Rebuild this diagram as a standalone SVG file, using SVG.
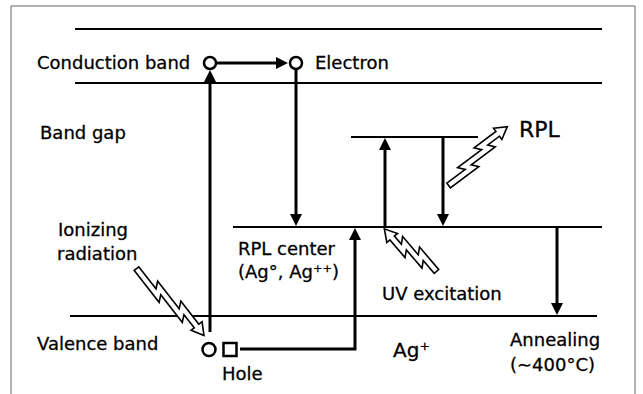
<svg xmlns="http://www.w3.org/2000/svg" width="643" height="394" viewBox="0 0 643 394">
<style>
  text { font-family: "DejaVu Sans", "Liberation Sans", sans-serif; font-size: 18px; fill: #000; stroke: #000; stroke-width: 0.3; }
  .big { font-size: 22px; }
  .mid { font-size: 20px; }
  .band { stroke: #000; stroke-width: 2.2; fill: none; }
  .arr { stroke: #000; stroke-width: 3; fill: none; marker-end: url(#ah); stroke-linejoin: miter; }
  .st { fill: #fff; stroke: #000; stroke-width: 2.5; }
  .boltO { fill: none; stroke: #000; stroke-width: 7.5; stroke-linejoin: miter; stroke-miterlimit: 6; }
  .boltI { fill: none; stroke: #fff; stroke-width: 4.3; stroke-linejoin: miter; stroke-miterlimit: 6; }
  .boltH { fill: #fff; stroke: #000; stroke-width: 1.6; stroke-linejoin: miter; }
  .frame { fill: none; stroke: #666; stroke-width: 1; }
</style>
<defs>
  <marker id="ah" markerUnits="userSpaceOnUse" viewBox="0 0 12 12" refX="4" refY="6" markerWidth="12" markerHeight="12" orient="auto">
    <path d="M0,0 L12,6 L0,12 z" fill="#000"/>
  </marker>
</defs>
<rect width="643" height="394" fill="#fff"/>
<path class="frame" d="M11,394 V6 H635 V394"/>

<g id="levels">
  <line class="band" x1="75" y1="29" x2="602" y2="29"/>
  <line class="band" x1="75" y1="83" x2="602" y2="83"/>
  <line class="band" x1="351" y1="137" x2="478" y2="137"/>
  <line class="band" x1="233" y1="227" x2="602" y2="227"/>
  <line class="band" x1="70" y1="316" x2="597" y2="316"/>
</g>

<g id="connectors">
  <line class="arr" x1="210" y1="332" x2="210" y2="78"/>
  <line class="arr" x1="217" y1="63" x2="280" y2="63"/>
  <line class="arr" x1="296" y1="70" x2="296" y2="218"/>
  <path class="arr" d="M240,349 H355 V236"/>
  <line class="arr" x1="385" y1="227" x2="385" y2="146"/>
  <line class="arr" x1="443" y1="137" x2="443" y2="218"/>
  <line class="arr" x1="557" y1="227" x2="557" y2="307"/>
</g>

<g id="electron-start"><circle class="st" cx="210" cy="63" r="6"/></g>
<g id="electron-end"><circle class="st" cx="296" cy="63" r="6"/></g>
<g id="hole-circle"><circle class="st" cx="209" cy="349.5" r="6.5"/></g>
<g id="hole-square"><rect class="st" x="223.5" y="343" width="13" height="13"/></g>

<g id="bolt-ionizing" transform="translate(136,268) rotate(52)">
  <path class="boltO" d="M0,0 H35 L30,-6 H65 L60,-12 H83"/>
  <polygon class="boltH" points="83,-19 95,-12 83,-5"/>
  <path class="boltI" d="M1.6,0 H35 L30,-6 H65 L60,-12 H84.5"/>
</g>
<g id="bolt-uv" transform="translate(437,272) rotate(229.5)">
  <path class="boltO" d="M0,0 H24 L19,-6 H43 L38,-12 H55"/>
  <polygon class="boltH" points="55,-19 67,-12 55,-5"/>
  <path class="boltI" d="M1.6,0 H24 L19,-6 H43 L38,-12 H56.5"/>
</g>
<g id="bolt-rpl" transform="translate(448,186) rotate(-36.8)">
  <path class="boltO" d="M0,0 H30 L25,-6 H55 L50,-12 H71"/>
  <polygon class="boltH" points="71,-19 83,-12 71,-5"/>
  <path class="boltI" d="M1.6,0 H30 L25,-6 H55 L50,-12 H72.5"/>
</g>

<g id="labels">
  <text x="37" y="69">Conduction band</text>
  <text x="315" y="69">Electron</text>
  <text x="40" y="139">Band gap</text>
  <text class="big" x="519" y="137">RPL</text>
  <text x="58" y="236">Ionizing</text>
  <text x="57" y="260">radiation</text>
  <text x="238" y="255">RPL center</text>
  <text x="238" y="278">(Ag°, Ag⁺⁺)</text>
  <text x="382" y="300">UV excitation</text>
  <text x="37" y="350">Valence band</text>
  <text x="222" y="380">Hole</text>
  <text class="mid" x="393" y="357">Ag⁺</text>
  <text x="510" y="346">Annealing</text>
  <text x="510" y="371">(∼400°C)</text>
</g>
</svg>
